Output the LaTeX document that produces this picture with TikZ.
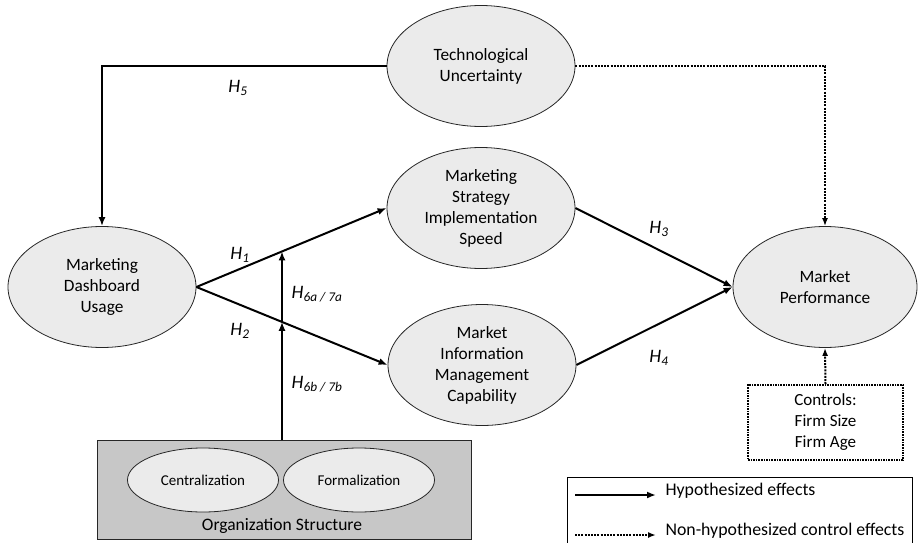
\documentclass[tikz,border=0pt]{standalone}
\usepackage{fontspec}
\setmainfont{Carlito}
\usetikzlibrary{shapes.geometric,arrows.meta}

\tikzset{
  construct/.style={ellipse,draw=black!85,fill=black!8,line width=0.8pt,inner sep=0pt,
    minimum width=188pt,minimum height=121pt,align=center,font=\fontsize{17.3}{21}\selectfont},
  subconstruct/.style={ellipse,draw=black!85,fill=black!8,line width=0.8pt,inner sep=0pt,
    minimum width=151pt,minimum height=64pt,font=\fontsize{15}{18}\selectfont},
  hyp/.style={-{Latex[length=9pt,width=7pt]},line width=2pt},
  ctrl/.style={-{Latex[length=8pt,width=6pt]},line width=2pt,dash pattern=on 2pt off 1.2pt},
  hlabel/.style={font=\fontsize{19}{22}\selectfont\itshape},
}

\begin{document}
\begin{tikzpicture}[x=1pt,y=-1pt]
    \useasboundingbox (0,0) rectangle (918,543);
    % constructs
    \node[construct] (tech) at (481,66) {Technological\\Uncertainty};
    \node[construct] (strat) at (481,208) {Marketing\\Strategy\\Implementation\\Speed};
    \node[construct] (info) at (482,365) {Market\\Information\\Management\\Capability};
    \node[construct] (dash) at (102,287) {Marketing\\Dashboard\\Usage};
    \node[construct,minimum width=184pt] (perf) at (825,287) {Market\\Performance};
    % moderator
    \node[draw=black!85,fill=black!22,line width=0.8pt,minimum width=374pt,minimum height=99pt] (org) at (284,489.5) {};
    \node[subconstruct] (central) at (203,480) {Centralization};
    \node[subconstruct] (formal) at (359,480) {Formalization};
    \node[font=\fontsize{17.5}{20}\selectfont] (orgtxt) at (282,526) {Organization Structure};
    % controls
    \node[draw,line width=1.6pt,dash pattern=on 1.6pt off 1pt,minimum width=155pt,minimum height=75pt,
      align=center,font=\fontsize{17}{21}\selectfont] (controls) at (825.5,422.5) {Controls:\\Firm Size\\Firm Age};
    % hypothesized paths
    \coordinate (m1) at (282,251.4);
    \coordinate (m2) at (282,321.8);
    \draw[hyp] (tech.west) -| (dash.north);
    \draw[hyp] (dash.east) -- (strat.west);
    \draw[hyp] (dash.east) -- (info.west);
    \draw[hyp] (strat.east) -- (perf.west);
    \draw[hyp] (info.east) -- (perf.west);
    \draw[hyp] (org.north -| m2) -- (m2);
    \draw[hyp] (m2) -- (m1);
    \draw[ctrl] (tech.east) -| (perf.north);
    \draw[ctrl] (controls.north) -- (perf.south);
    \node[hlabel] (h5) at (238,88) {H\textsubscript{5}};
    \node[hlabel] (h1) at (240,255) {H\textsubscript{1}};
    \node[hlabel] (h2) at (240,331) {H\textsubscript{2}};
    \node[hlabel] (h3) at (659,229) {H\textsubscript{3}};
    \node[hlabel] (h4) at (659,358) {H\textsubscript{4}};
    \node[hlabel] (h67a) at (317,294) {H\textsubscript{6a / 7a}};
    \node[hlabel] (h67b) at (317,384) {H\textsubscript{6b / 7b}};
    % legend
    \draw[line width=0.9pt] (567,545) -- (567,477) -- (912,477) -- (912,545);
    \coordinate (la) at (575,495);
    \coordinate (lb) at (656,495);
    \coordinate (lc) at (575,535);
    \coordinate (ld) at (656,535);
    \draw[hyp] (la) -- (lb);
    \draw[ctrl] (lc) -- (ld);
    \node[anchor=west,font=\fontsize{17.8}{20}\selectfont] (hyptxt) at (662,491) {Hypothesized effects};
    \node[anchor=west,font=\fontsize{17.8}{20}\selectfont] (ctrltxt) at (662,531) {Non-hypothesized control effects};
\end{tikzpicture}
\end{document}
